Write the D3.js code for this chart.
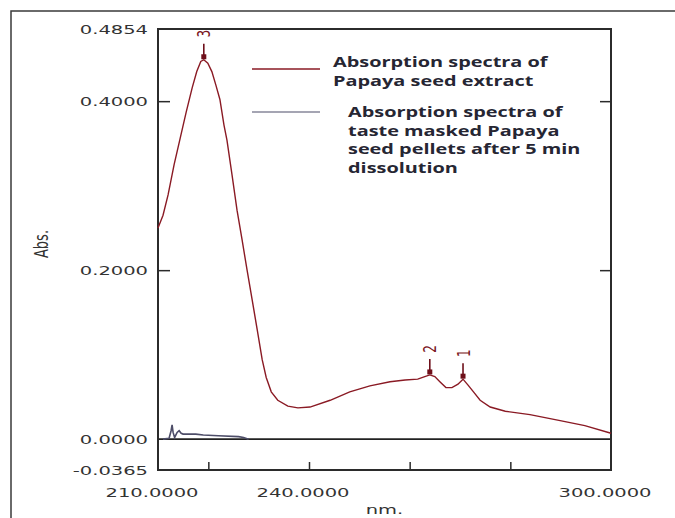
<!DOCTYPE html>
<html><head><meta charset="utf-8">
<script src="https://cdn.jsdelivr.net/npm/d3@7"></script>
<style>body{margin:0;background:#fff}svg{display:block}</style>
</head><body><svg id="c" width="675" height="518"></svg>
<script>
// ---- data ----
const redWavelength = [210.0,211.0,212.0,213.2,214.4,215.6,216.8,217.7,218.5,219.1,219.9,220.7,221.5,222.3,223.1,223.7,224.7,225.7,226.7,227.7,228.7,229.7,230.7,231.5,232.5,233.8,235.8,237.8,240.2,244.2,248.1,252.1,256.1,259.1,261.6,263.0,264.0,265.0,266.0,267.2,268.4,269.6,270.6,271.6,272.8,274.0,276.0,279.0,283.9,289.9,294.8,300.0];
const redAbs = [0.250,0.265,0.289,0.325,0.356,0.387,0.416,0.435,0.447,0.449,0.445,0.435,0.419,0.402,0.372,0.354,0.313,0.271,0.236,0.200,0.165,0.130,0.094,0.073,0.056,0.046,0.039,0.037,0.038,0.046,0.056,0.063,0.068,0.070,0.071,0.074,0.076,0.074,0.068,0.061,0.061,0.065,0.071,0.064,0.055,0.046,0.038,0.033,0.029,0.022,0.016,0.007];
const blueWavelength = [211.0,212.2,212.6,212.8,213.0,213.3,213.8,214.2,214.6,215.0,217.5,219.0,222.0,226.0,227.0,228.0];
const blueAbs = [0.000,0.001,0.010,0.017,0.008,0.002,0.008,0.010,0.007,0.006,0.006,0.005,0.004,0.003,0.002,0.000];
const peakLabels = ["1","2","3"];
const peakWavelength = [270.6,264.0,219.1];
const peakAbs = [0.071,0.076,0.449];
const yTickValues = [-0.0365,0.0,0.2,0.4,0.4854];
const yTickLabels = ["-0.0365","0.0000","0.2000","0.4000","0.4854"];
const yMinorTicks = [0.2,0.4];
const xTickValues = [220,240,260,280];
const xLabelValues = [210,240,300];
const xLabelTexts = ["210.0000","240.0000","300.0000"];
const legendSeries = ["extract","pellets"];
const legendLines = [["Absorption spectra of","Papaya seed extract"],["Absorption spectra of","taste masked Papaya","seed pellets after 5 min","dissolution"]];
const xTitle = "nm.";
const yTitle = "Abs.";

// ---- layout ----
const L=158,R=611,T=29,B=470;
const RED="#8a1a24", BLUE="#4d4d68", INK="#2b2b2b";
const SX=1.5; // horizontal stretch of the original picture's fonts
const svg=d3.select("#c");
const x=d3.scaleLinear().domain([210,300]).range([L,R]);
const y=d3.scaleLinear().domain([-0.0365,0.4854]).range([B,T]);

// outer frame
svg.append("rect").attr("x",11).attr("y",11).attr("width",720).attr("height",620)
  .attr("fill","none").attr("stroke","#3a3a3a").attr("stroke-width",1.5);

function txt(g,px,py,s,anchor,sx,opts){
  opts=opts||{};
  const t=g.append("text").attr("transform",`translate(${px},${py}) scale(${sx},1)`+(opts.rot?` rotate(${opts.rot})`:""))
   .attr("text-anchor",anchor).attr("font-family",opts.family||"DejaVu Sans")
   .attr("font-size",opts.size||13).attr("fill",opts.fill||"#333")
   .attr("font-weight",opts.weight||"normal").text(s);
  if(opts.dy) t.attr("dy",opts.dy);
  return t;
}

// axes ticks (inward) via d3 axes
const gl=svg.append("g").attr("transform",`translate(${L},0)`)
  .call(d3.axisLeft(y).tickValues(yMinorTicks).tickSize(-12).tickFormat(""));
const gr=svg.append("g").attr("transform",`translate(${R},0)`)
  .call(d3.axisRight(y).tickValues(yMinorTicks).tickSize(-11).tickFormat(""));
const gb=svg.append("g").attr("transform",`translate(0,${B})`)
  .call(d3.axisBottom(x).tickValues(xTickValues).tickSize(-8).tickFormat(""));
[gl,gr,gb].forEach(g=>{g.select(".domain").remove();g.selectAll("line").attr("stroke",INK).attr("stroke-width",1.5);});

// zero line
svg.append("line").attr("x1",L).attr("x2",R).attr("y1",y(0)).attr("y2",y(0))
  .attr("stroke","#222").attr("stroke-width",1.6);

// plot frame
svg.append("rect").attr("x",L).attr("y",T).attr("width",R-L).attr("height",B-T)
  .attr("fill","none").attr("stroke",INK).attr("stroke-width",2);

// tick labels
const lab=svg.append("g");
yTickValues.forEach((v,i)=>txt(lab,148,y(v),yTickLabels[i],"end",SX,{dy:"0.36em"}));
xLabelValues.forEach((v,i)=>txt(lab,x(v)-6,497,xLabelTexts[i],"middle",SX));
txt(lab,(L+R)/2,514,xTitle,"middle",SX);
txt(lab,48,244,yTitle,"middle",SX,{rot:-90});

// series
const line=d3.line().x(d=>x(d[0])).y(d=>y(d[1]));
svg.append("path").datum(d3.zip(blueWavelength,blueAbs)).attr("d",line)
  .attr("fill","none").attr("stroke",BLUE).attr("stroke-width",1.6);
svg.append("path").datum(d3.zip(redWavelength,redAbs)).attr("d",line)
  .attr("fill","none").attr("stroke",RED).attr("stroke-width",1.4);

// peak markers
peakLabels.forEach((p,i)=>{
  const px=x(peakWavelength[i]), py=y(peakAbs[i])-3;
  svg.append("line").attr("x1",px).attr("x2",px).attr("y1",py-13).attr("y2",py)
    .attr("stroke","#6e0f1a").attr("stroke-width",1.6);
  svg.append("rect").attr("x",px-2.5).attr("y",py-2.5).attr("width",5).attr("height",5).attr("fill","#6e0f1a");
  txt(svg,px,py-23,p,"middle",SX,{rot:-90,size:12,fill:"#7a1522",dy:"0.36em"});
});

// legend
const lg=svg.append("g");
const legY=[69,112], legColor=[RED,BLUE], legTextX=[333,348], legBase=[67,117];
legendSeries.forEach((s,i)=>{
  lg.append("line").attr("x1",252).attr("x2",320).attr("y1",legY[i]).attr("y2",legY[i])
    .attr("stroke",legColor[i]).attr("stroke-width",i===0?1.5:1.2);
  legendLines[i].forEach((t,j)=>txt(lg,legTextX[i],legBase[i]+j*18.5,t,"start",1.42,
    {family:"Open Sans",size:14,weight:"bold",fill:"#262633"}));
});
</script></body></html>
